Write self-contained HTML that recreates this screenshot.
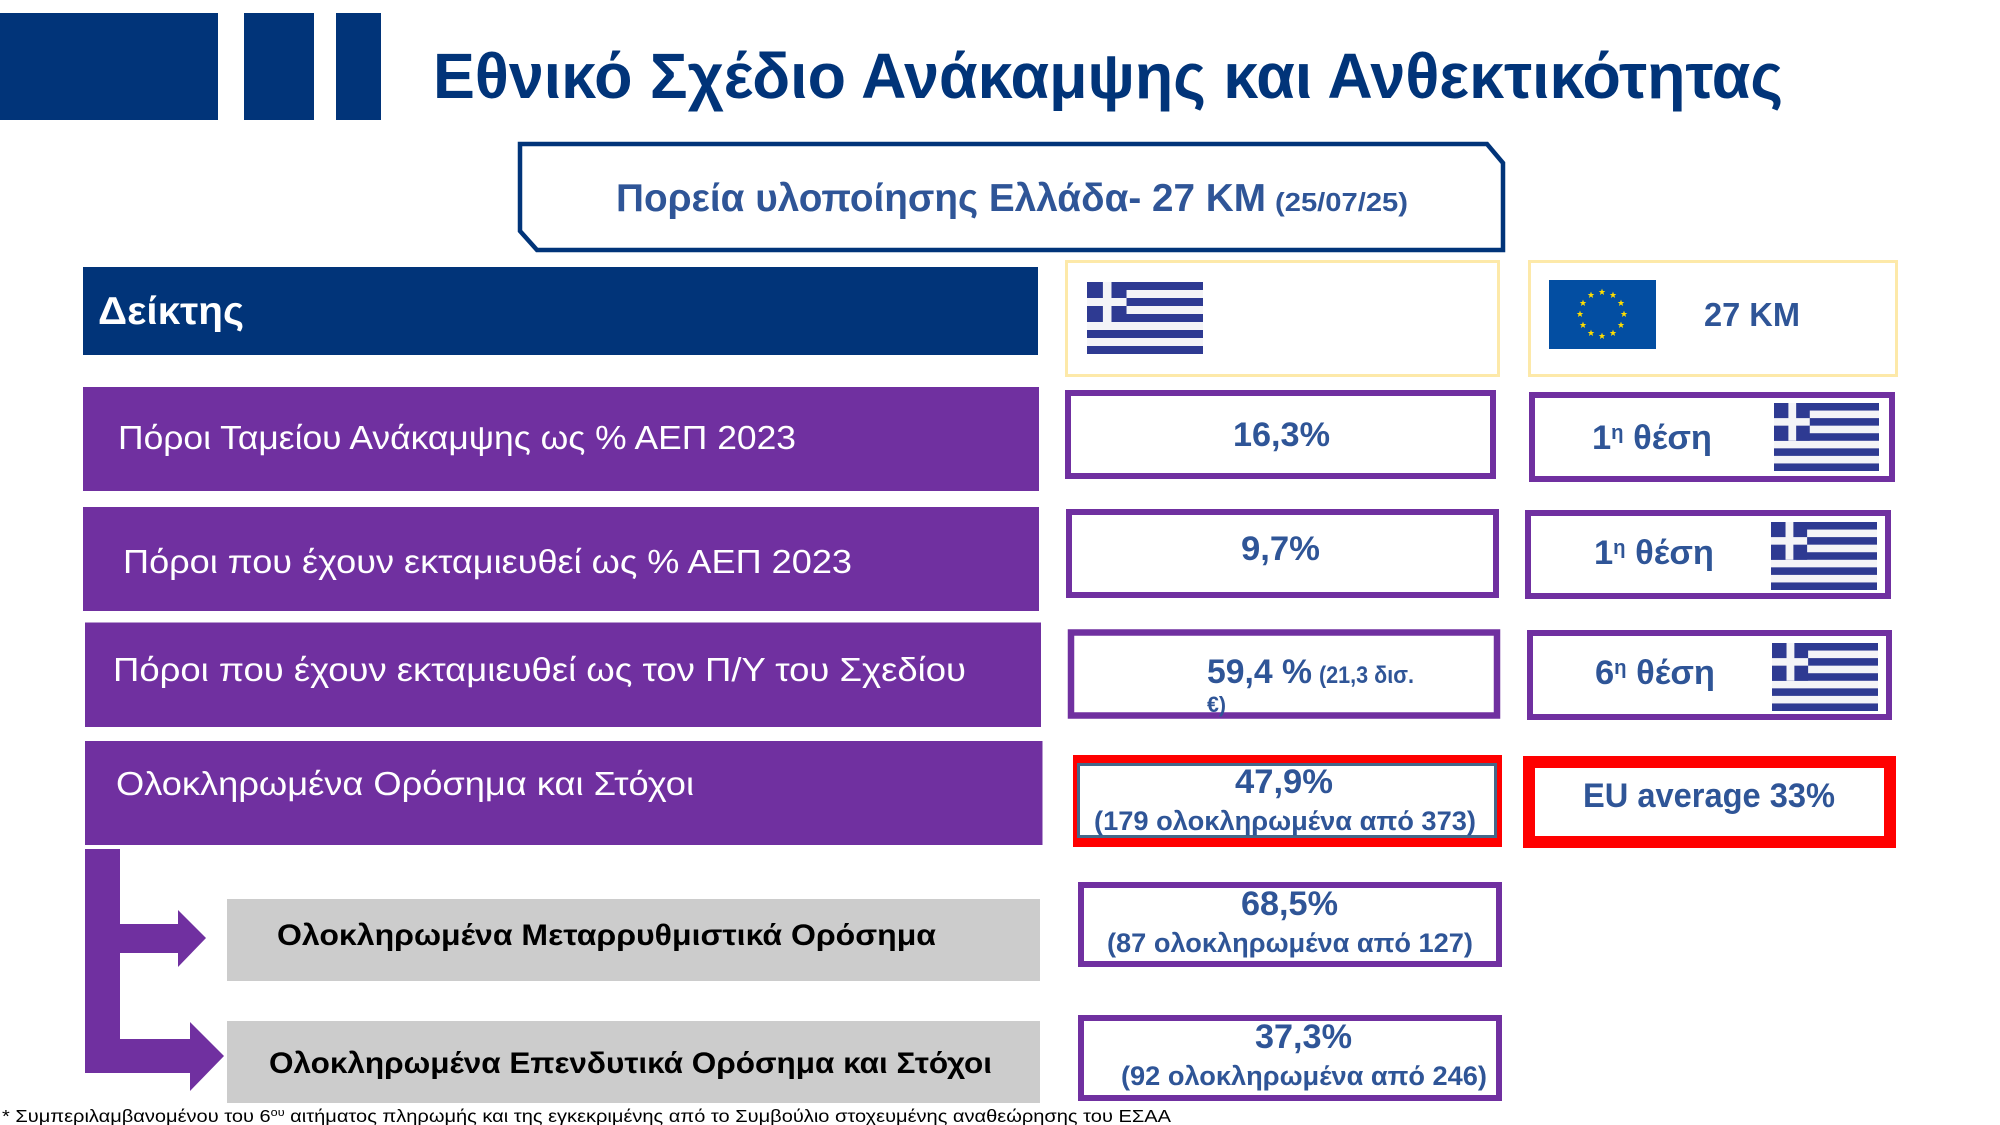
<!DOCTYPE html>
<html lang="el">
<head>
<meta charset="utf-8">
<title>Εθνικό Σχέδιο Ανάκαμψης και Ανθεκτικότητας</title>
<style>
html,body{margin:0;padding:0;background:#fff;width:2000px;height:1125px;overflow:hidden}
svg{display:block}
text{font-family:"Liberation Sans","Noto Sans CJK SC",sans-serif}
.b{font-weight:700}
.blue{fill:#2f5597}
.white{fill:#fff}
.navy{fill:#013479}
</style>
</head>
<body>
<svg width="2000" height="1125" viewBox="0 0 2000 1125" xmlns="http://www.w3.org/2000/svg">
<defs>
<symbol id="gr" viewBox="0 0 27 18" preserveAspectRatio="none">
<rect width="27" height="18" fill="#f4f4f7"/>
<rect y="0" width="27" height="2" fill="#2e3a92"/>
<rect y="4" width="27" height="2" fill="#2e3a92"/>
<rect y="8" width="27" height="2" fill="#2e3a92"/>
<rect y="12" width="27" height="2" fill="#2e3a92"/>
<rect y="16" width="27" height="2" fill="#2e3a92"/>
<rect width="9.2" height="10" fill="#2e3a92"/>
<rect x="3.7" width="2" height="10" fill="#f4f4f7"/>
<rect y="4" width="9.2" height="2" fill="#f4f4f7"/>
</symbol>
<polygon id="star" points="0,-3.4 0.9,-1 3.3,-1 1.4,0.5 2.1,3 0,1.5 -2.1,3 -1.4,0.5 -3.3,-1 -0.9,-1" fill="#ffdd00"/>
</defs>

<g>
<rect x="0" y="13" width="218" height="107" fill="#013479"/>
<rect x="244" y="13" width="70" height="107" fill="#013479"/>
<rect x="336" y="13" width="45" height="107" fill="#013479"/>
</g>
<text class="b navy" x="433" y="98" font-size="64" textLength="1350" lengthAdjust="spacingAndGlyphs">Εθνικό Σχέδιο Ανάκαμψης και Ανθεκτικότητας</text>

<polygon points="520,144 1487,144 1503,163 1503,250 537,250 520,231" fill="#fff" stroke="#013479" stroke-width="4.5"/>
<text class="b blue" x="616" y="211" font-size="39" textLength="650" lengthAdjust="spacingAndGlyphs">Πορεία υλοποίησης Ελλάδα- 27 KM</text>
<text class="b blue" x="1275" y="211" font-size="26" textLength="133" lengthAdjust="spacingAndGlyphs">(25/07/25)</text>

<rect x="83" y="267" width="955" height="88" fill="#013479"/>
<text class="b white" x="98" y="324" font-size="39" textLength="146" lengthAdjust="spacingAndGlyphs">Δείκτης</text>

<rect x="1066.5" y="261.5" width="432" height="114" fill="#fff" stroke="#fde9a9" stroke-width="3"/>
<use href="#gr" x="1087" y="282" width="116" height="72"/>
<rect x="1529.5" y="261.5" width="367" height="114" fill="#fff" stroke="#fde9a9" stroke-width="3"/>
<g>
<rect x="1549" y="280" width="107" height="69" fill="#034ea2"/>
<use href="#star" x="1602" y="292"/><use href="#star" x="1613" y="295"/><use href="#star" x="1621" y="303"/><use href="#star" x="1624" y="314"/><use href="#star" x="1621" y="325"/><use href="#star" x="1613" y="333"/><use href="#star" x="1602" y="336"/><use href="#star" x="1591" y="333"/><use href="#star" x="1583" y="325"/><use href="#star" x="1580" y="314"/><use href="#star" x="1583" y="303"/><use href="#star" x="1591" y="295"/>
</g>
<text class="b blue" x="1704" y="326" font-size="33" textLength="96" lengthAdjust="spacingAndGlyphs">27 KM</text>

<rect x="83" y="387" width="956" height="104" fill="#7030a0"/>
<text class="white" x="118" y="449" font-size="33" textLength="678" lengthAdjust="spacingAndGlyphs">Πόροι Ταμείου Ανάκαμψης ως % ΑΕΠ 2023</text>
<rect x="83" y="507" width="956" height="104" fill="#7030a0"/>
<text class="white" x="123" y="573" font-size="33" textLength="729" lengthAdjust="spacingAndGlyphs">Πόροι που έχουν εκταμιευθεί ως % ΑΕΠ 2023</text>
<rect x="85" y="622.5" width="956" height="104.5" fill="#7030a0"/>
<text class="white" x="113" y="681" font-size="33" textLength="853" lengthAdjust="spacingAndGlyphs">Πόροι που έχουν εκταμιευθεί ως τον Π/Υ του Σχεδίου</text>
<rect x="85" y="741" width="957.5" height="104" fill="#7030a0"/>
<text class="white" x="116" y="795" font-size="33" textLength="578" lengthAdjust="spacingAndGlyphs">Ολοκληρωμένα Ορόσημα και Στόχοι</text>

<polygon fill="#7030a0" points="85,849 120,849 120,924 178,924 178,910 206,938 178,967 178,953 120,953 120,1039 190,1039 190,1022 224,1056 190,1091 190,1073 85,1073"/>
<rect x="227" y="899" width="813" height="82" fill="#cccccc"/>
<text class="b" fill="#000" x="277" y="945" font-size="30" textLength="659" lengthAdjust="spacingAndGlyphs">Ολοκληρωμένα Μεταρρυθμιστικά Ορόσημα</text>
<rect x="227" y="1021" width="813" height="82" fill="#cccccc"/>
<text class="b" fill="#000" x="269" y="1073" font-size="30" textLength="723" lengthAdjust="spacingAndGlyphs">Ολοκληρωμένα Επενδυτικά Ορόσημα και Στόχοι</text>

<rect x="1068" y="393" width="425" height="83" fill="#fff" stroke="#7030a0" stroke-width="6"/>
<text class="b blue" x="1233" y="446" font-size="34" textLength="97" lengthAdjust="spacingAndGlyphs">16,3%</text>
<rect x="1532" y="395" width="360" height="84" fill="#fff" stroke="#7030a0" stroke-width="6"/>
<text class="b blue" x="1592" y="449" font-size="34" textLength="120" lengthAdjust="spacingAndGlyphs">1<tspan dy="-10" font-size="20">η</tspan><tspan dy="10"> θέση</tspan></text>
<use href="#gr" x="1774" y="403" width="105" height="68"/>

<rect x="1069" y="512" width="427" height="83" fill="#fff" stroke="#7030a0" stroke-width="6"/>
<text class="b blue" x="1241" y="560" font-size="34" textLength="79" lengthAdjust="spacingAndGlyphs">9,7%</text>
<rect x="1528" y="513" width="360" height="83" fill="#fff" stroke="#7030a0" stroke-width="6"/>
<text class="b blue" x="1594" y="564" font-size="34" textLength="120" lengthAdjust="spacingAndGlyphs">1<tspan dy="-10" font-size="20">η</tspan><tspan dy="10"> θέση</tspan></text>
<use href="#gr" x="1771" y="522" width="106" height="68"/>

<rect x="1071" y="632.5" width="426" height="83" fill="#fff" stroke="#7030a0" stroke-width="6.5"/>
<text class="b blue" x="1207" y="683" font-size="34" textLength="105" lengthAdjust="spacingAndGlyphs">59,4 %</text>
<text class="b blue" x="1319" y="683" font-size="24" textLength="95" lengthAdjust="spacingAndGlyphs">(21,3 δισ.</text>
<text class="b blue" x="1207" y="712" font-size="22" textLength="19" lengthAdjust="spacingAndGlyphs">€)</text>
<rect x="1530" y="633" width="359" height="84" fill="#fff" stroke="#7030a0" stroke-width="6"/>
<text class="b blue" x="1595" y="684" font-size="34" textLength="120" lengthAdjust="spacingAndGlyphs">6<tspan dy="-10" font-size="20">η</tspan><tspan dy="10"> θέση</tspan></text>
<use href="#gr" x="1772" y="643" width="106" height="68"/>

<rect x="1073" y="755" width="429" height="92" fill="#ff0000"/>
<rect x="1078.5" y="764.5" width="417" height="72" fill="#fff" stroke="#44688a" stroke-width="3"/>
<text class="b blue" x="1235" y="793" font-size="34" textLength="98" lengthAdjust="spacingAndGlyphs">47,9%</text>
<text class="b blue" x="1094" y="830" font-size="27" textLength="382" lengthAdjust="spacingAndGlyphs">(179 ολοκληρωμένα από 373)</text>
<rect x="1523" y="756" width="373" height="92" fill="#ff0000"/>
<rect x="1535" y="768" width="349" height="68" fill="#fff"/>
<text class="b blue" x="1583" y="807" font-size="34" textLength="252" lengthAdjust="spacingAndGlyphs">EU average 33%</text>

<rect x="1081" y="885" width="418" height="79" fill="#fff" stroke="#7030a0" stroke-width="6"/>
<text class="b blue" x="1241" y="915" font-size="34" textLength="97" lengthAdjust="spacingAndGlyphs">68,5%</text>
<text class="b blue" x="1107" y="952" font-size="27" textLength="366" lengthAdjust="spacingAndGlyphs">(87 ολοκληρωμένα από 127)</text>
<rect x="1081" y="1018" width="418" height="80" fill="#fff" stroke="#7030a0" stroke-width="6"/>
<text class="b blue" x="1255" y="1048" font-size="34" textLength="97" lengthAdjust="spacingAndGlyphs">37,3%</text>
<text class="b blue" x="1121" y="1085" font-size="27" textLength="366" lengthAdjust="spacingAndGlyphs">(92 ολοκληρωμένα από 246)</text>

<text fill="#000" x="2" y="1122" font-size="17.5" textLength="1169" lengthAdjust="spacingAndGlyphs">* Συμπεριλαμβανομένου του 6<tspan dy="-6" font-size="11">ου</tspan><tspan dy="6"> αιτήματος πληρωμής και της εγκεκριμένης από το Συμβούλιο στοχευμένης αναθεώρησης του ΕΣΑΑ</tspan></text>
</svg>
</body>
</html>
